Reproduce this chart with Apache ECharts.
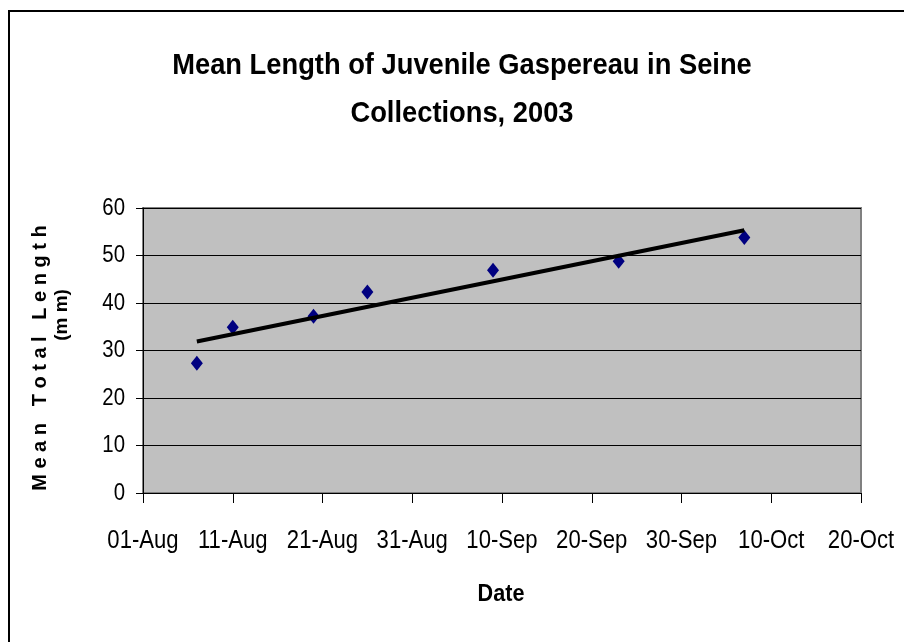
<!DOCTYPE html>
<html>
<head>
<meta charset="utf-8">
<script src="https://cdn.jsdelivr.net/npm/echarts@6/dist/echarts.min.js"></script>
<style>
  html, body { margin: 0; padding: 0; background: #fff; }
  #chart { width: 904px; height: 642px; }
</style>
</head>
<body>
<div id="chart"></div>
<script>
// sampling dates and mean total length (mm)
const sampleDates = ['2003-08-07', '2003-08-11', '2003-08-20', '2003-08-26', '2003-09-09', '2003-09-23', '2003-10-07']
const meanLengths = [27.3, 34.9, 37.2, 42.3, 46.9, 48.8, 53.8]
// x axis tick labels, every 10 days from 01-Aug
const xTickLabels = ['01-Aug', '11-Aug', '21-Aug', '31-Aug', '10-Sep', '20-Sep', '30-Sep', '10-Oct', '20-Oct']
const yTickLabels = ['0', '10', '20', '30', '40', '50', '60']
const startDate = '2003-08-01'

// no narrow Arial installed, so text gets squeezed with scaleX
const font = "'Liberation Sans', Arial, sans-serif"
const squeeze = 0.85

// days since 01-Aug
const dayMs = 86400000
const t0 = Date.parse(startDate)
const days = sampleDates.map(d => (Date.parse(d) - t0) / dayMs)
const points = days.map((d, i) => [d, meanLengths[i]])

// linear trend (least squares), like the Excel trendline
const n = days.length
const mx = days.reduce((a, b) => a + b, 0) / n
const my = meanLengths.reduce((a, b) => a + b, 0) / n
let sxy = 0
let sxx = 0
days.forEach((d, i) => {
  sxy += (d - mx) * (meanLengths[i] - my)
  sxx += (d - mx) * (d - mx)
})
const slope = sxy / sxx
const icpt = my - slope * mx
const xFirst = Math.min(...days)
const xLast = Math.max(...days)
const trend = [[xFirst, icpt + slope * xFirst], [xLast, icpt + slope * xLast]]

const chart = echarts.init(document.getElementById('chart'))
chart.setOption({
  animation: false,
  grid: {
    left: 143,
    right: 43,
    top: 208,
    bottom: 149,
    show: true,
    backgroundColor: '#c0c0c0',
    borderColor: '#808080',
    borderWidth: 2
  },
  xAxis: {
    type: 'value',
    min: 0,
    max: 80,
    interval: 10,
    axisLine: { lineStyle: { color: '#000', width: 1 } },
    axisTick: { show: true, length: 10, lineStyle: { color: '#000' } },
    splitLine: { show: false },
    axisLabel: { show: false }
  },
  yAxis: {
    type: 'value',
    min: 0,
    max: 60,
    interval: 10,
    axisLine: { show: true, lineStyle: { color: '#000', width: 1 } },
    axisTick: { show: true, length: 7, lineStyle: { color: '#000' } },
    splitLine: { show: true, lineStyle: { color: '#000', width: 1 } },
    axisLabel: { show: false }
  },
  series: [
    {
      name: 'Mean length',
      type: 'scatter',
      data: points,
      symbol: 'diamond',
      symbolSize: [12, 15],
      itemStyle: { color: '#000080', opacity: 1 },
      z: 3
    },
    {
      name: 'Linear trend',
      type: 'line',
      data: trend,
      showSymbol: false,
      lineStyle: { color: '#000', width: 4 },
      z: 4
    }
  ]
})

// tick labels placed through the axis scales
const labels = []
xTickLabels.forEach((txt, i) => {
  const p = chart.convertToPixel({ gridIndex: 0 }, [i * 10, 0])
  labels.push({
    type: 'text',
    x: p[0],
    y: p[1] + 35,
    scaleX: squeeze,
    style: { text: txt, fontFamily: font, fontSize: 26, fill: '#000', align: 'center', verticalAlign: 'top' }
  })
})
yTickLabels.forEach((txt, i) => {
  const p = chart.convertToPixel({ gridIndex: 0 }, [0, i * 10])
  labels.push({
    type: 'text',
    x: p[0] - 18,
    y: p[1],
    scaleX: squeeze,
    style: { text: txt, fontFamily: font, fontSize: 24, fill: '#000', align: 'right', verticalAlign: 'middle' }
  })
})

chart.setOption({
  graphic: [
    {
      type: 'rect',
      shape: { x: 9, y: 11, width: 1000, height: 1000 },
      style: { fill: 'none', stroke: '#000', lineWidth: 2 },
      silent: true
    },
    {
      type: 'text',
      x: 462,
      y: 42,
      scaleX: 0.91,
      style: {
        text: 'Mean Length of Juvenile Gaspereau in Seine\nCollections, 2003',
        fontFamily: font,
        fontWeight: 'bold',
        fontSize: 30,
        lineHeight: 48,
        fill: '#000',
        align: 'center',
        verticalAlign: 'top'
      }
    },
    {
      type: 'text',
      x: 40,
      y: 358,
      rotation: Math.PI / 2,
      style: {
        text: 'M e a n   T o t a l   L e n g t h',
        fontFamily: font,
        fontWeight: 'bold',
        fontSize: 20,
        fill: '#000',
        align: 'center',
        verticalAlign: 'middle'
      }
    },
    {
      type: 'text',
      x: 62,
      y: 315,
      rotation: Math.PI / 2,
      style: {
        text: '(m m)',
        fontFamily: font,
        fontWeight: 'bold',
        fontSize: 19,
        fill: '#000',
        align: 'center',
        verticalAlign: 'middle'
      }
    },
    {
      type: 'text',
      x: 501,
      y: 594,
      scaleX: 0.9,
      style: {
        text: 'Date',
        fontFamily: font,
        fontWeight: 'bold',
        fontSize: 24,
        fill: '#000',
        align: 'center',
        verticalAlign: 'middle'
      }
    }
  ].concat(labels)
})
</script>
</body>
</html>
